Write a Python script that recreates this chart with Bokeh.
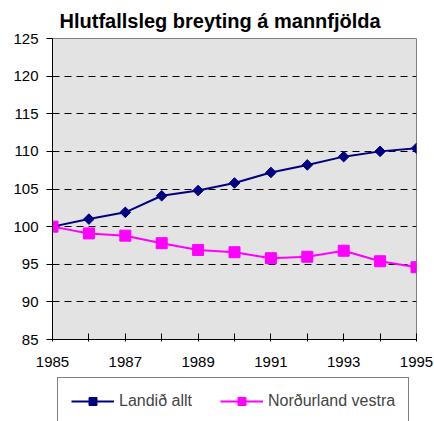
from bokeh.plotting import figure
from bokeh.models import Legend, LegendItem, FixedTicker, Range1d
from bokeh.layouts import column
from bokeh.embed import file_html
from bokeh.resources import INLINE

years = [1985, 1986, 1987, 1988, 1989, 1990, 1991, 1992, 1993, 1994, 1995]
landid_allt = [100.0, 101.0, 101.9, 104.1, 104.8, 105.8, 107.2, 108.2, 109.3, 110.0, 110.4]
nordurland_vestra = [100.0, 99.1, 98.8, 97.8, 96.9, 96.6, 95.8, 96.0, 96.8, 95.4, 94.6]
y_ticks = [85, 90, 95, 100, 105, 110, 115, 120, 125]
x_label_years = [1985, 1987, 1989, 1991, 1993, 1995]
series_names = ["Landið allt", "Norðurland vestra"]

FONT = "Liberation Sans"
NAVY = "#000080"
MAGENTA = "#FF00FF"

p = figure(width=434, height=376, output_backend="svg", toolbar_location=None,
           x_range=Range1d(1985, 1995), y_range=Range1d(85, 125),
           min_border_left=52, min_border_right=18, min_border_top=38, min_border_bottom=37,
           background_fill_color="#E3E3E3", border_fill_color="white",
           outline_line_color="#808080", outline_line_width=1)

p.title.text = "Hlutfallsleg breyting á mannfjölda"
p.title.text_font = FONT
p.title.text_font_size = "20px"
p.title.text_font_style = "bold"
p.title.align = "left"
p.title.offset = 7
p.title.standoff = 13
p.title.text_color = "black"

# grid
p.xgrid.grid_line_color = None
p.ygrid.ticker = FixedTicker(ticks=y_ticks[1:-1])
p.ygrid.grid_line_color = "black"
p.ygrid.grid_line_dash = "7 5"
p.ygrid.grid_line_width = 1

# axes
p.yaxis.ticker = FixedTicker(ticks=y_ticks)
p.yaxis.minor_tick_line_color = None
p.yaxis.major_tick_in = 0
p.yaxis.major_tick_out = 6
p.yaxis.major_label_standoff = 8
p.yaxis.axis_line_color = "black"
p.yaxis.major_tick_line_color = "black"

p.xaxis.ticker = FixedTicker(ticks=years)
p.xaxis.major_label_overrides = {y: (str(y) if y in x_label_years else "") for y in years}
p.xaxis.minor_tick_line_color = None
p.xaxis.major_tick_in = 6
p.xaxis.major_tick_out = 2
p.xaxis.major_label_standoff = 15
p.xaxis.axis_line_color = "black"
p.xaxis.major_tick_line_color = "black"

for ax in (p.xaxis, p.yaxis):
    ax.major_label_text_font = FONT
    ax.major_label_text_font_size = "15px"
    ax.major_label_text_color = "black"


def draw(fig):
    l1 = fig.line(years, landid_allt, line_color=NAVY, line_width=2)
    m1 = fig.scatter(years, landid_allt, marker="square", angle=0.785, size=7.5,
                     fill_color=NAVY, line_color=NAVY)
    l2 = fig.line(years, nordurland_vestra, line_color=MAGENTA, line_width=2)
    m2 = fig.scatter(years, nordurland_vestra, marker="square", size=11,
                     fill_color=MAGENTA, line_color=MAGENTA)
    return (l1, m1), (l2, m2)


draw(p)

# legend strip below the chart (its own renderers lie outside its ranges)
q = figure(width=434, height=45, output_backend="svg", toolbar_location=None,
           x_range=Range1d(0, 1), y_range=Range1d(0, 1),
           min_border_left=0, min_border_right=0, min_border_top=0, min_border_bottom=0,
           background_fill_color="white", border_fill_color="white",
           outline_line_color=None)
q.axis.visible = False
q.grid.visible = False
r1, r2 = draw(q)

legend = Legend(items=[LegendItem(label=series_names[0], renderers=list(r1)),
                       LegendItem(label=series_names[1], renderers=list(r2))],
                orientation="horizontal", location=(5, -4),
                glyph_width=43, glyph_height=20, label_standoff=5, spacing=28,
                padding=13, margin=0,
                label_text_font=FONT, label_text_font_size="16px",
                border_line_color="black", border_line_width=1,
                background_fill_color="white", background_fill_alpha=1)
q.add_layout(legend, "center")

layout = column(p, q, spacing=0)
open("out.html", "w").write(file_html(layout, INLINE))
